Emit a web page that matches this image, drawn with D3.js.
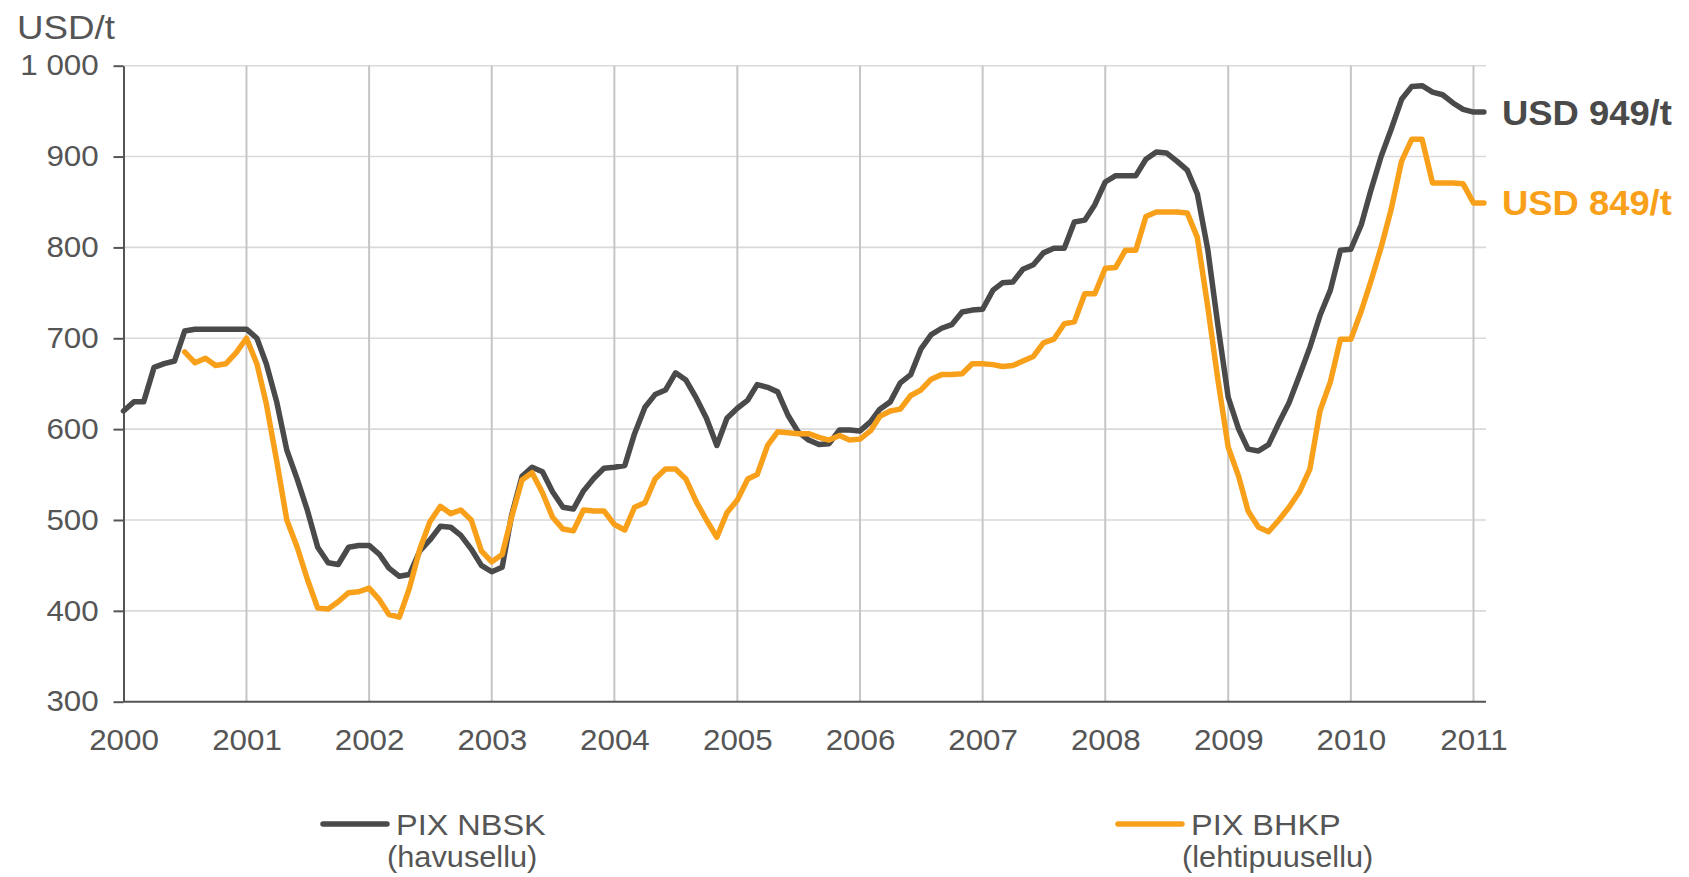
<!DOCTYPE html>
<html>
<head>
<meta charset="utf-8">
<script src="https://cdn.jsdelivr.net/npm/d3@7"></script>
<style>
  body { margin: 0; background: #fff; }
  svg { display: block; font-family: "Liberation Sans", Arial, sans-serif; }
  .tick text { fill: #555; }
</style>
</head>
<body>
<svg id="chart" width="1689" height="877"></svg>
<script>
// monthly PIX prices, USD/t (Jan 2000 .. Feb 2011)
const nbsk2000 = [620, 630, 630, 668, 672, 675, 708, 710, 710, 710, 710, 710];
const nbsk2001 = [710, 700, 672, 630, 577, 545, 511, 470, 453, 451, 470, 472];
const nbsk2002 = [472, 462, 447, 438, 440, 466, 478, 493, 492, 483, 468, 450];
const nbsk2003 = [443, 448, 505, 548, 558, 553, 531, 514, 512, 532, 546, 557];
const nbsk2004 = [558, 560, 595, 624, 638, 643, 662, 654, 634, 612, 582, 612];
const nbsk2005 = [623, 632, 649, 646, 641, 615, 597, 588, 583, 584, 599, 599];
const nbsk2006 = [598, 608, 622, 630, 651, 660, 688, 704, 711, 715, 729, 731];
const nbsk2007 = [732, 753, 761, 762, 776, 781, 794, 799, 799, 828, 830, 847];
const nbsk2008 = [872, 879, 879, 879, 897, 905, 904, 895, 885, 859, 798, 715];
const nbsk2009 = [635, 600, 578, 576, 583, 607, 629, 659, 690, 725, 753, 797];
const nbsk2010 = [798, 825, 862, 900, 930, 963, 977, 978, 971, 968, 959, 952];
const nbsk2011 = [949, 949];

const bhkp2000 = [null, null, null, null, null, null, 685, 673, 678, 670, 672, 684];
const bhkp2001 = [700, 672, 628, 565, 500, 470, 435, 403, 402, 410, 420, 421];
const bhkp2002 = [425, 412, 396, 393, 425, 468, 498, 515, 507, 511, 500, 466];
const bhkp2003 = [454, 462, 503, 544, 552, 530, 503, 490, 488, 511, 510, 510];
const bhkp2004 = [495, 489, 514, 519, 545, 556, 556, 545, 520, 500, 481, 508];
const bhkp2005 = [522, 545, 550, 582, 597, 596, 595, 595, 591, 588, 593, 588];
const bhkp2006 = [589, 598, 614, 620, 622, 637, 643, 655, 660, 660, 661, 672];
const bhkp2007 = [672, 671, 669, 670, 675, 680, 695, 699, 716, 718, 749, 749];
const bhkp2008 = [777, 778, 797, 797, 834, 839, 839, 839, 838, 811, 735, 655];
const bhkp2009 = [580, 548, 510, 492, 487, 500, 514, 531, 556, 620, 652, 699];
const bhkp2010 = [699, 730, 762, 800, 842, 895, 919, 919, 871, 871, 871, 870];
const bhkp2011 = [849, 849];

const yTicks = [300, 400, 500, 600, 700, 800, 900, 1000];
const seriesNames = ['PIX NBSK', 'PIX BHKP'];
const seriesSub = ['(havusellu)', '(lehtipuusellu)'];
const endLabels = ['USD 949/t', 'USD 849/t'];
const colors = ['#4a4a4a', '#f9a01b'];

const nbsk = [].concat(nbsk2000, nbsk2001, nbsk2002, nbsk2003, nbsk2004, nbsk2005,
    nbsk2006, nbsk2007, nbsk2008, nbsk2009, nbsk2010, nbsk2011);
const bhkp = [].concat(bhkp2000, bhkp2001, bhkp2002, bhkp2003, bhkp2004, bhkp2005,
    bhkp2006, bhkp2007, bhkp2008, bhkp2009, bhkp2010, bhkp2011);
const months = d3.timeMonth.range(new Date(2000, 0, 1), new Date(2011, 2, 1));

const plotLeft = 123.5;
const plotRight = 1486;
const plotTop = 65.7;
const plotBottom = 701.7;
const stretch = 1.08;

const x = d3.scaleTime().domain([new Date(2000, 0, 1), new Date(2011, 0, 1)]).range([plotLeft, 1473.5]);
const y = d3.scaleLinear().domain([300, 1000]).range([plotBottom, plotTop]);

const svg = d3.select('#chart');
const fmt = d3.formatLocale({ decimal: ',', thousands: ' ', grouping: [3], currency: ['', ''] }).format(',');

// grid
svg.append('g')
    .selectAll('line')
    .data(yTicks.filter(function (d) { return d > 300; }))
    .enter()
    .append('line')
    .attr('x1', plotLeft).attr('x2', plotRight)
    .attr('y1', function (d) { return y(d); })
    .attr('y2', function (d) { return y(d); })
    .attr('stroke', '#d9d9d9')
    .attr('stroke-width', 1.6);

const years = d3.timeYear.range(new Date(2001, 0, 1), new Date(2011, 1, 1));
svg.append('g')
    .selectAll('line')
    .data(years)
    .enter()
    .append('line')
    .attr('x1', function (d) { return x(d); })
    .attr('x2', function (d) { return x(d); })
    .attr('y1', plotTop).attr('y2', plotBottom)
    .attr('stroke', '#c6c6c6')
    .attr('stroke-width', 2);

// axes
const yAxis = svg.append('g')
    .attr('transform', 'translate(' + plotLeft + ',0)')
    .call(d3.axisLeft(y).tickValues(yTicks).tickSize(10).tickSizeOuter(0).tickPadding(13).tickFormat(fmt));
yAxis.selectAll('path, line').attr('stroke', '#555').attr('stroke-width', 2);
yAxis.selectAll('text').attr('font-size', 29).attr('transform', 'scale(' + stretch + ',1)');

const xAxis = svg.append('g')
    .attr('transform', 'translate(0,' + plotBottom + ')')
    .call(d3.axisBottom(x).ticks(d3.timeYear.every(1)).tickSize(0).tickSizeOuter(0).tickPadding(28)
        .tickFormat(d3.timeFormat('%Y')));
xAxis.select('.domain').attr('d', 'M' + plotLeft + ',0H' + plotRight).attr('stroke', '#555').attr('stroke-width', 2);
xAxis.selectAll('text').attr('font-size', 29).attr('transform', 'scale(' + stretch + ',1)');

svg.append('text')
    .attr('transform', 'translate(17,39) scale(' + stretch + ',1)')
    .attr('font-size', 34)
    .attr('fill', '#555')
    .text('USD/t');

// lines
const line = d3.line()
    .defined(function (d) { return d[1] != null; })
    .x(function (d) { return x(d[0]); })
    .y(function (d) { return y(d[1]); });

[nbsk, bhkp].forEach(function (vals, i) {
    const pts = months.map(function (m, j) { return [m, vals[j]]; });
    svg.append('path')
        .datum(pts)
        .attr('d', line)
        .attr('fill', 'none')
        .attr('stroke', colors[i])
        .attr('stroke-width', 5.5)
        .attr('stroke-linejoin', 'round')
        .attr('stroke-linecap', 'round');

    const last = pts[pts.length - 1];
    svg.append('text')
        .attr('transform', 'translate(1502,' + y(last[1]) + ') scale(' + 1.04 + ',1)')
        .attr('dy', '0.36em')
        .attr('font-size', 35)
        .attr('font-weight', 'bold')
        .attr('fill', colors[i])
        .text(endLabels[i]);
});

// legend
const legendX = [323, 1118];
seriesNames.forEach(function (name, i) {
    const g = svg.append('g').attr('transform', 'translate(' + legendX[i] + ',824)');
    g.append('line')
        .attr('x1', 0).attr('x2', 64)
        .attr('stroke', colors[i])
        .attr('stroke-width', 5.5)
        .attr('stroke-linecap', 'round');
    g.append('text')
        .attr('transform', 'translate(73,11) scale(1.12,1)')
        .attr('font-size', 29)
        .attr('fill', '#555')
        .text(name);
    g.append('text')
        .attr('transform', 'translate(64,43) scale(1.06,1)')
        .attr('font-size', 29)
        .attr('fill', '#555')
        .text(seriesSub[i]);
});
</script>
</body>
</html>
